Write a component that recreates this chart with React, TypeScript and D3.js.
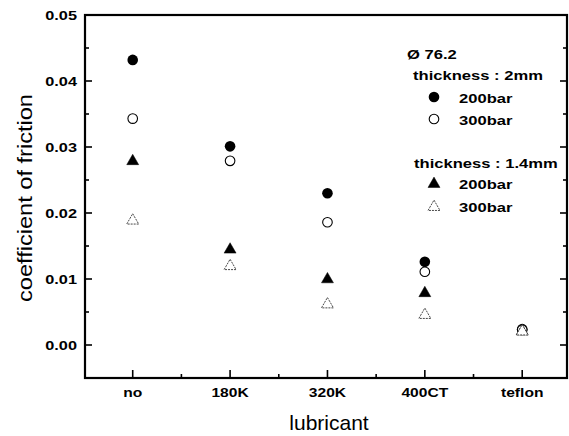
import { useEffect, useRef } from "react";
import * as d3 from "d3";

const categories = ["no", "180K", "320K", "400CT", "teflon"];
const t2_200bar = [0.0432, 0.0301, 0.0230, 0.0126, 0.0024];
const t2_300bar = [0.0343, 0.0279, 0.0186, 0.0111, 0.0023];
const t14_200bar = [0.0280, 0.0146, 0.0101, 0.0080, 0.0022];
const t14_300bar = [0.0190, 0.0121, 0.0063, 0.0047, 0.0022];
const yTicks = [0, 0.01, 0.02, 0.03, 0.04, 0.05];

const width = 569;
const height = 436;
const margin = { top: 15, right: 2, bottom: 58, left: 85 };

export default function App() {
  const ref = useRef(null);

  useEffect(() => {
    draw();
  });

  function draw() {
    const svg = d3.select(ref.current);
    svg.selectAll("*").remove();

    const x = d3
      .scaleLinear()
      .domain([-0.49, 4.46])
      .range([margin.left, width - margin.right]);
    const y = d3
      .scaleLinear()
      .domain([-0.005, 0.05])
      .range([height - margin.bottom, margin.top]);

    const x0 = margin.left;
    const x1 = width - margin.right;
    const y0 = height - margin.bottom;
    const y1 = margin.top;

    // ticks (inward)
    const ticks = svg.append("g").attr("stroke", "#000").attr("stroke-width", 1.6);
    d3.range(0, 11).forEach((i) => {
      const v = -0.005 + i * 0.005;
      if (v <= -0.005 + 1e-9 || v >= 0.05 - 1e-9) return;
      const major = Math.abs(Math.round(v * 100) - v * 100) < 1e-6;
      const len = major ? 7 : 4;
      ticks.append("line").attr("x1", x0).attr("x2", x0 + len).attr("y1", y(v)).attr("y2", y(v));
      ticks.append("line").attr("x1", x1).attr("x2", x1 - len).attr("y1", y(v)).attr("y2", y(v));
    });
    d3.range(0, 9).forEach((i) => {
      const v = i * 0.5;
      const major = i % 2 === 0;
      const len = major ? 8 : 4;
      ticks.append("line").attr("x1", x(v)).attr("x2", x(v)).attr("y1", y0).attr("y2", y0 - len);
    });

    // frame
    svg
      .append("rect")
      .attr("x", x0)
      .attr("y", y1)
      .attr("width", x1 - x0)
      .attr("height", y0 - y1)
      .attr("fill", "none")
      .attr("stroke", "#000")
      .attr("stroke-width", 2.2);

    // tick labels
    const labelFont = "'Liberation Sans', Arial, sans-serif";
    yTicks.forEach((v) => {
      svg
        .append("text")
        .attr("transform", `translate(77,${y(v) + 4.5}) scale(1.36,1)`)
        .attr("text-anchor", "end")
        .attr("font-family", labelFont)
        .attr("font-weight", 700)
        .attr("font-size", 12)
        .text(d3.format(".2f")(v));
    });
    categories.forEach((c, i) => {
      svg
        .append("text")
        .attr("transform", `translate(${x(i)},397) scale(1.3,1)`)
        .attr("text-anchor", "middle")
        .attr("font-family", labelFont)
        .attr("font-weight", 700)
        .attr("font-size", 12)
        .text(c);
    });

    // axis titles
    svg
      .append("text")
      .attr("x", 329)
      .attr("y", 430)
      .attr("text-anchor", "middle")
      .attr("font-family", labelFont)
      .attr("font-size", 21)
      .text("lubricant");
    svg
      .append("text")
      .attr("transform", "translate(32,198) rotate(-90)")
      .attr("text-anchor", "middle")
      .attr("font-family", labelFont)
      .attr("font-size", 21)
      .attr("textLength", 208)
      .attr("lengthAdjust", "spacingAndGlyphs")
      .text("coefficient of friction");

    // markers
    const tri = d3.symbol().type(d3.symbolTriangle).size(62);
    const plot = svg.append("g");
    const dot = (cx: number, cy: number, filled: boolean) =>
      plot
        .append("circle")
        .attr("cx", cx)
        .attr("cy", cy)
        .attr("r", filled ? 5.3 : 4.8)
        .attr("fill", filled ? "#000" : "#fff")
        .attr("stroke", "#000")
        .attr("stroke-width", filled ? 0 : 1.1);
    const triangle = (cx: number, cy: number, filled: boolean) =>
      plot
        .append("path")
        .attr("d", tri()!)
        .attr("transform", `translate(${cx},${cy + 1})`)
        .attr("fill", filled ? "#000" : "#fff")
        .attr("stroke", filled ? "#000" : "#333")
        .attr("stroke-width", filled ? 0.5 : 0.9)
        .attr("stroke-dasharray", filled ? null : "2,1");

    t2_200bar.forEach((v, i) => dot(x(i), y(v), true));
    t2_300bar.forEach((v, i) => dot(x(i), y(v), false));
    t14_200bar.forEach((v, i) => triangle(x(i), y(v), true));
    t14_300bar.forEach((v, i) => triangle(x(i), y(v), false));

    // legend
    const legend = svg.append("g");
    const legText = (tx: number, ty: number, s: string) =>
      legend
        .append("text")
        .attr("transform", `translate(${tx},${ty}) scale(1.22,1)`)
        .attr("font-family", labelFont)
        .attr("font-weight", 700)
        .attr("font-size", 13.6)
        .text(s);
    legText(407, 59, "Ø 76.2");
    legText(413, 80, "thickness : 2mm");
    dot(434, 97, true);
    legText(459, 103, "200bar");
    dot(434, 119, false);
    legText(459, 125, "300bar");
    legText(414, 168, "thickness : 1.4mm");
    triangle(434, 183, true);
    legText(459, 189, "200bar");
    triangle(434, 206, false);
    legText(459, 212, "300bar");
  }

  return (
    <svg
      ref={ref}
      width={width}
      height={height}
      style={{ position: "absolute", left: 0, top: 0, background: "#fff" }}
    ></svg>
  );
}
